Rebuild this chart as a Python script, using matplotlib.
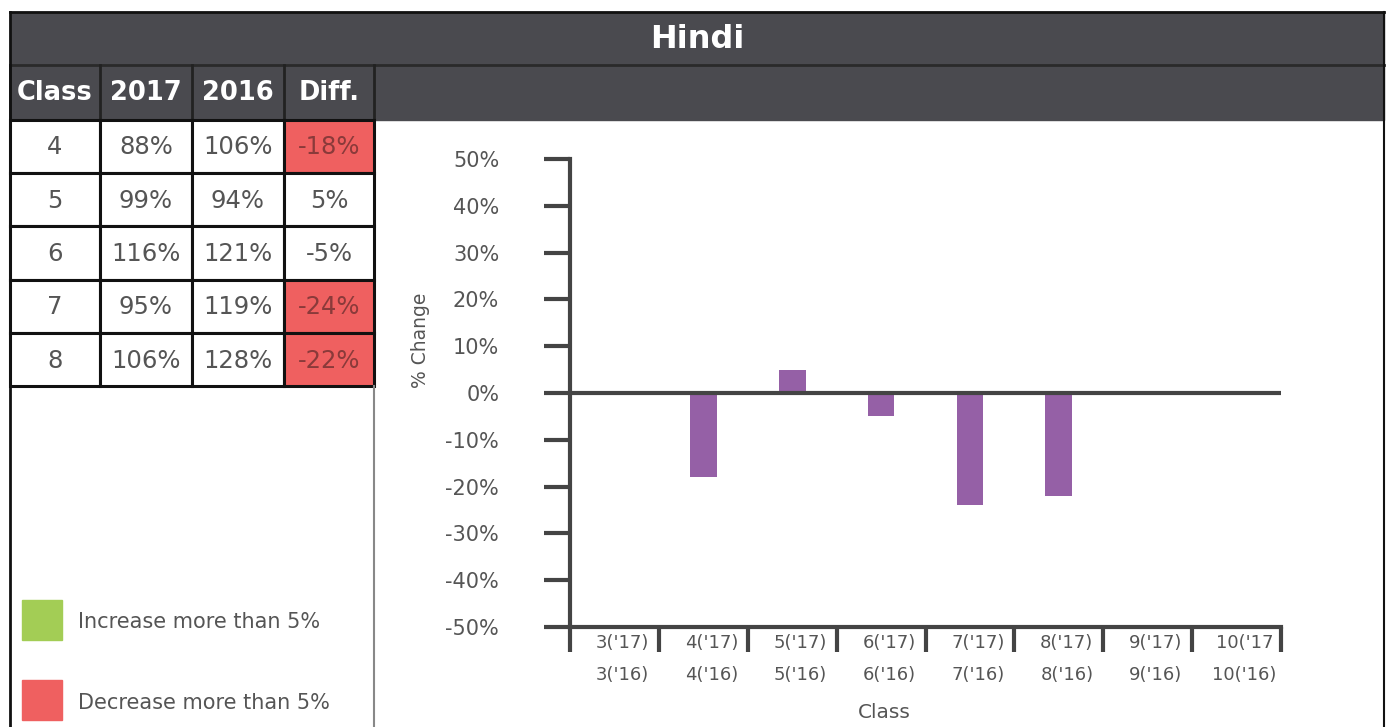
import numpy as np
import matplotlib.pyplot as plt
import matplotlib.transforms as mtransforms
from matplotlib.patches import Rectangle

# table data
classes = ["4", "5", "6", "7", "8"]
pct_2017 = [88, 99, 116, 95, 106]
pct_2016 = [106, 94, 121, 119, 128]
diff = [-18, 5, -5, -24, -22]

# chart data
chart_classes = [3, 4, 5, 6, 7, 8, 9, 10]
chart_diff = [np.nan, -18, 5, -5, -24, -22, np.nan, np.nan]
top_labels = ["3('17)", "4('17)", "5('17)", "6('17)", "7('17)", "8('17)", "9('17)", "10('17"]
bot_labels = ["3('16)", "4('16)", "5('16)", "6('16)", "7('16)", "8('16)", "9('16)", "10('16)"]

dark = "#4a4a4f"
red = "#ef6060"
green = "#a3cd55"
purple = "#9560a6"
grey_txt = "#555555"
axis_col = "#444444"

W, H = 1391, 727
fig = plt.figure(figsize=(W / 100, H / 100), dpi=100)

# background axes in pixel coordinates
bg = fig.add_axes([0, 0, 1, 1])
bg.set_xlim(0, W)
bg.set_ylim(H, 0)
bg.axis("off")

# title bar and header row
bg.add_patch(Rectangle((10, 12), 1374, 108, color=dark, zorder=1))
bg.plot([10, 1384], [65, 65], color="#2a2a2a", lw=2, zorder=2)
bg.text(697, 40, "Hindi", color="white", fontsize=23, fontweight="bold",
        ha="center", va="center", zorder=3)

col_x = [10, 100, 192, 284, 374]
row_y = [120, 173, 226, 280, 333, 386]
headers = ["Class", "2017", "2016", "Diff."]
for i, h in enumerate(headers):
    bg.text((col_x[i] + col_x[i + 1]) / 2, 93, h, color="white", fontsize=18.5,
            fontweight="bold", ha="center", va="center", zorder=3)
for x in col_x:
    bg.plot([x, x], [65, 120], color="#222222", lw=2, zorder=2)

# table body
for r in range(len(classes)):
    d = diff[r]
    vals = [classes[r], f"{pct_2017[r]}%", f"{pct_2016[r]}%", f"{d}%"]
    for c in range(4):
        fc = "white"
        tc = grey_txt
        if c == 3 and d < -5:
            fc = red
            tc = "#8a3a3a"
        elif c == 3 and d > 5:
            fc = green
        bg.add_patch(Rectangle((col_x[c], row_y[r]), col_x[c + 1] - col_x[c],
                               row_y[r + 1] - row_y[r], facecolor=fc,
                               edgecolor="#111111", lw=2.2, zorder=2))
        bg.text((col_x[c] + col_x[c + 1]) / 2, (row_y[r] + row_y[r + 1]) / 2 + 1,
                vals[c], color=tc, fontsize=17.5, ha="center", va="center", zorder=3)

# panel borders
bg.plot([10, 10], [12, H], color="#111111", lw=2, zorder=4)
bg.plot([10, 1384], [12, 12], color="#111111", lw=2, zorder=4)
bg.plot([1384, 1384], [12, H], color="#111111", lw=1.5, zorder=4)
bg.plot([374, 374], [386, H], color="#888888", lw=1.5, zorder=4)

# legend
bg.add_patch(Rectangle((22, 600), 40, 40, color=green, zorder=3))
bg.add_patch(Rectangle((22, 680), 40, 40, color=red, zorder=3))
bg.text(78, 622, "Increase more than 5%", color=grey_txt, fontsize=15,
        ha="left", va="center")
bg.text(78, 703, "Decrease more than 5%", color=grey_txt, fontsize=15,
        ha="left", va="center")

# chart axes
ax = fig.add_axes([570 / W, 1 - 627 / H, 711 / W, (627 - 159) / H])
ax.patch.set_alpha(0)
x = np.arange(len(chart_classes)) + 0.5
ax.bar(x, chart_diff, width=0.3, color=purple, zorder=2)
ax.axhline(0, color=axis_col, lw=3, zorder=3)
ax.set_xlim(0, 8)
ax.set_ylim(-50, 50)

for s in ["top", "right"]:
    ax.spines[s].set_visible(False)
for s in ["left", "bottom"]:
    ax.spines[s].set_color(axis_col)
    ax.spines[s].set_linewidth(3)

ax.set_yticks(np.arange(-50, 51, 10))
ax.set_yticklabels([f"{v}%" for v in range(-50, 51, 10)])
ax.tick_params(axis="y", length=19, width=3, color=axis_col, pad=32,
               labelsize=15, labelcolor=grey_txt)

ax.set_xticks(np.arange(0, 9))
ax.set_xticklabels([])
ax.tick_params(axis="x", which="major", length=18, width=3, color=axis_col)
ax.set_xticks(x, minor=True)
ax.set_xticklabels([f"{t}\n{b}" for t, b in zip(top_labels, bot_labels)], minor=True)
ax.tick_params(axis="x", which="minor", length=0, pad=5, labelsize=13,
               labelcolor=grey_txt)
shift = mtransforms.ScaledTranslation(8 / 100, 0, fig.dpi_scale_trans)
for lab in ax.get_xticklabels(minor=True):
    lab.set_linespacing(2.0)
    lab.set_transform(lab.get_transform() + shift)

fig.text(420 / W, 1 - 340 / H, "% Change", rotation=90, color=grey_txt,
         fontsize=13.5, ha="center", va="center")
fig.text(884 / W, 1 - 712 / H, "Class", color=grey_txt, fontsize=14.5,
         ha="center", va="center")

fig.savefig("out.png", dpi=100, facecolor="white")
